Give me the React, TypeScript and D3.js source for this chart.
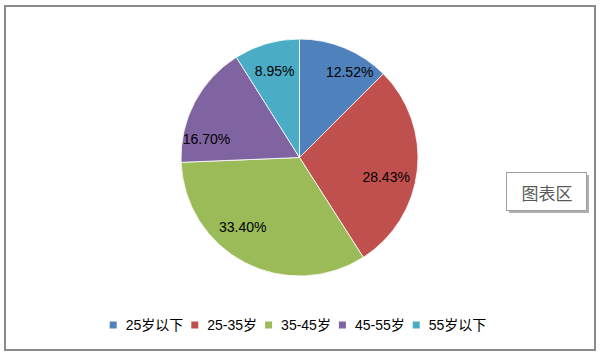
import React, { useEffect, useRef } from "react";
import * as d3 from "d3";

const categories = ["25岁以下", "25-35岁", "35-45岁", "45-55岁", "55岁以下"];
const values = [12.52, 28.43, 33.4, 16.7, 8.95];
const colors = ["#4F81BD", "#C0504D", "#9BBB59", "#8064A2", "#4BACC6"];
const chartAreaLabel = "图表区";

// best-fit label placement tweaks (degrees of rotation from slice mid-angle, radius fraction)
const labelAngleShift = [7.7, 6.7, 11.5, -16.7, 0];
const labelRadiusFrac = [0.84, 0.75, 0.76, 0.8, 0.756];

const W = 601;
const H = 354;

export default function App() {
  const ref = useRef<SVGSVGElement | null>(null);

  useEffect(() => {
    document.body.style.margin = "0";
    const svg = d3.select(ref.current);
    svg.selectAll("*").remove();

    svg
      .append("rect")
      .attr("x", 5)
      .attr("y", 6)
      .attr("width", 590)
      .attr("height", 344)
      .attr("fill", "#fff")
      .attr("stroke", "#8a8a8a")
      .attr("stroke-width", 2);

    const cx = 299.5;
    const cy = 157.5;
    const R = 118.5;

    const pie = d3
      .pie<number>()
      .sort(null)
      .value((d) => d);
    const arcs = pie(values);
    const arc = d3.arc<d3.PieArcDatum<number>>().innerRadius(0).outerRadius(R);

    const g = svg.append("g").attr("transform", `translate(${cx},${cy})`);
    g.selectAll("path")
      .data(arcs)
      .enter()
      .append("path")
      .attr("d", arc as any)
      .attr("fill", (_d, i) => colors[i])
      .attr("stroke", "#fff")
      .attr("stroke-width", 0.8);

    g.selectAll("text")
      .data(arcs)
      .enter()
      .append("text")
      .attr("transform", (d, i) => {
        const a = (d.startAngle + d.endAngle) / 2 + (labelAngleShift[i] * Math.PI) / 180;
        const r = R * labelRadiusFrac[i];
        return `translate(${r * Math.sin(a)},${-r * Math.cos(a)})`;
      })
      .attr("text-anchor", "middle")
      .attr("dominant-baseline", "central")
      .attr("font-family", "'Liberation Sans', 'Noto Sans CJK SC', sans-serif")
      .attr("font-size", 14)
      .attr("fill", "#000")
      .text((d) => d.data.toFixed(2) + "%");

    // legend
    const lg = svg.append("g");
    const sq = 7;
    const gapText = 9;
    const gapItem = 8;
    let x = 0;
    const items: { g: any; w: number }[] = [];
    categories.forEach((c, i) => {
      const ig = lg.append("g");
      ig.append("rect")
        .attr("x", 0)
        .attr("y", -sq / 2)
        .attr("width", sq)
        .attr("height", sq)
        .attr("fill", colors[i]);
      const t = ig
        .append("text")
        .attr("x", sq + gapText)
        .attr("y", 0)
        .attr("dominant-baseline", "central")
        .attr("font-family", "'Liberation Sans', 'Noto Sans CJK SC', sans-serif")
        .attr("font-size", 14)
        .attr("fill", "#000")
        .text(c);
      const tw = (t.node() as SVGTextElement).getComputedTextLength();
      items.push({ g: ig, w: sq + gapText + tw });
    });
    items.forEach((it, i) => {
      it.g.attr("transform", `translate(${x},0)`);
      x += it.w + (i < items.length - 1 ? gapItem : 0);
    });
    const legendCenter = 298;
    lg.attr("transform", `translate(${legendCenter - x / 2},325)`);

    // chart area tooltip box
    const bx = 506;
    const by = 172;
    const bw = 80;
    const bh = 38;
    svg
      .append("rect")
      .attr("x", bx + 3)
      .attr("y", by + 3)
      .attr("width", bw)
      .attr("height", bh)
      .attr("fill", "#b0b0b0");
    svg
      .append("rect")
      .attr("x", bx + 0.5)
      .attr("y", by + 0.5)
      .attr("width", bw)
      .attr("height", bh)
      .attr("fill", "#fff")
      .attr("stroke", "#a0a0a0")
      .attr("stroke-width", 1);
    svg
      .append("text")
      .attr("x", bx + bw / 2 + 1)
      .attr("y", by + bh / 2 + 1)
      .attr("text-anchor", "middle")
      .attr("dominant-baseline", "central")
      .attr("font-family", "'Noto Sans CJK SC', sans-serif")
      .attr("font-size", 17)
      .attr("fill", "#595959")
      .text(chartAreaLabel);
  }, []);

  return (
    <svg
      ref={ref}
      width={W}
      height={H}
      style={{ position: "absolute", left: 0, top: 0, display: "block" }}
    />
  );
}
